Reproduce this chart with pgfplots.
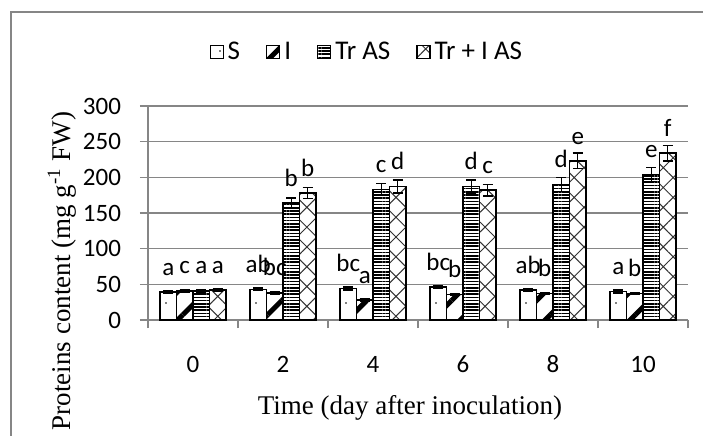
\documentclass[border=0pt]{standalone}
\usepackage{fontspec}
\setmainfont{Carlito}
\newfontfamily\timesf{Liberation Serif}
\usepackage{pgfplots}
\pgfplotsset{compat=1.18}
\usepackage{pgfplotstable}
\usetikzlibrary{patterns.meta}

% day, value, error, letter for each treatment
\pgfplotstableread{
x S eS lS I eI lI Tr eTr lTr TrI eTrI lTrI
0 39 2 a 41 1.5 c 41 1.5 a 42 1.5 a
1 43 2 ab 38 1.5 bc 164 7 b 178 8 b
2 44 2 bc 28 1.5 a 183 8 c 187 9 d
3 46 2 bc 36 1.5 b 187 9 d 182 8 c
4 42 2 ab 37 1.5 b 190 10 d 223 11 e
5 40 2 a 37 1.5 b 204 10 e 234 11 f
}\data

\definecolor{gridgray}{HTML}{868686}

\begin{document}
\begin{tikzpicture}
\useasboundingbox (0,0) rectangle (351.5pt,217.5pt);
\draw[gridgray, line width=1pt] (5.5pt,-5pt) -- (5.5pt,211.25pt) -- (360pt,211.25pt);
\begin{axis}[
  at={(74pt,57.5pt)}, anchor=south west,
  scale only axis, width=270pt, height=107pt,
  ybar=0pt, bar width=8.25pt,
  xmin=-0.5, xmax=5.5, ymin=0, ymax=300,
  xtick={0,...,5}, xticklabels={0,2,4,6,8,10},
  minor xtick={-0.5,0.5,...,5.5},
  ytick={0,50,...,300},
  ymajorgrids, grid style={gridgray, line width=0.75pt},
  axis x line*=bottom, axis y line*=left,
  axis line style={gridgray, line width=0.75pt},
  tick align=outside,
  major x tick style={draw=none},
  minor x tick style={gridgray, line width=0.75pt},
  ytick style={gridgray, line width=0.75pt},
  major tick length=4pt, minor tick length=4pt,
  /pgf/number format/assume math mode=true,
  tick label style={font=\fontsize{12.5}{14}\selectfont},
  xticklabel style={anchor=center, yshift=-18pt},
  yticklabel style={xshift=-6pt},
  point meta=explicit symbolic,
  nodes near coords,
  nodes near coords style={font=\fontsize{12.5}{14}\selectfont, anchor=south, inner sep=0pt, yshift=8pt, black},
  error bars/y dir=both, error bars/y explicit,
  error bars/error bar style={black, line width=0.7pt},
  error bars/error mark options={black, rotate=90, mark size=2.5pt, line width=0.7pt},
  legend columns=-1,
  legend style={draw=none, fill=none, at={(axis description cs:0.407,1.252)}, anchor=center,
    font=\fontsize{13.5}{15}\selectfont,
    nodes={inner sep=2pt},
    /tikz/every even column/.append style={column sep=11pt}},
  legend image code/.code={\draw[#1, line width=0.6pt] (0pt,-3.25pt) rectangle (6.5pt,3.25pt);},
]
\addplot[draw=black, line width=0.75pt, fill=white,
  postaction={pattern={Dots[distance=9pt, radius=0.45pt, xshift=2pt, yshift=3pt]}, pattern color=black}]
  table[x=x, y=S, y error=eS, meta=lS] {\data};
\addlegendentry{S}
\addplot[draw=black, line width=0.75pt, fill=white,
  postaction={pattern={Lines[angle=45, distance=10pt, line width=2.5pt, xshift=3pt]}, pattern color=black}]
  table[x=x, y=I, y error=eI, meta=lI] {\data};
\addlegendentry{I}
\addplot[draw=black, line width=0.75pt, fill=white,
  postaction={pattern={Lines[angle=0, distance=1.6pt, line width=0.75pt]}, pattern color=black}]
  table[x=x, y=Tr, y error=eTr, meta=lTr] {\data};
\addlegendentry{Tr AS}
\addplot[draw=black, line width=0.75pt, fill=white,
  postaction={pattern={Hatch[angle=45, distance=7pt, line width=0.5pt]}, pattern color=black!80}]
  table[x=x, y=TrI, y error=eTrI, meta=lTrI] {\data};
\addlegendentry{Tr + I AS}
\end{axis}
% axis titles
\node[rotate=90, font=\timesf\fontsize{13.5}{15}\selectfont] at (31pt,82pt)
  {Proteins content (mg g\textsuperscript{-1} FW)};
\node[font=\timesf\fontsize{13.5}{15}\selectfont] at (205pt,13.5pt)
  {Time (day after inoculation)};
\end{tikzpicture}
\end{document}
